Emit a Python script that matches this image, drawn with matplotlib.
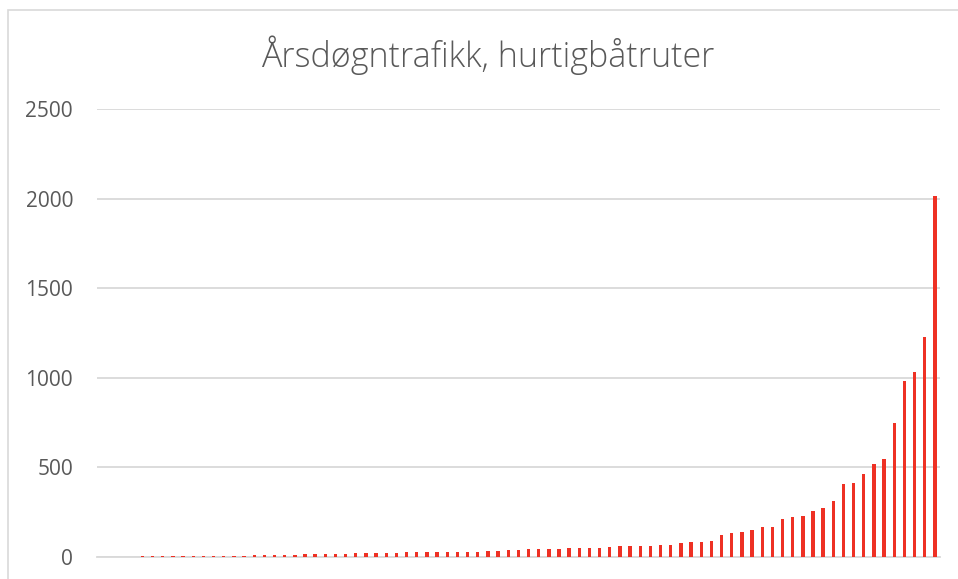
import matplotlib.pyplot as plt
import numpy as np

# Årsdøgntrafikk per hurtigbåtrute, sortert stigende
trafikk = [1, 1, 2, 2, 3, 3, 3, 4, 4, 5, 5, 5, 6,
           7, 7, 9, 11, 11, 13, 13, 17, 17, 17, 19, 19, 22,
           22, 22, 22, 24, 26, 28, 28, 28, 28, 28, 30, 30, 31, 34,
           39, 41, 43, 43, 45, 46, 48, 50, 50, 52, 56, 59, 59, 62,
           61, 65, 65, 78, 82, 82, 89, 121, 134, 141, 153, 166, 167,
           214, 221, 231, 255, 275, 314, 405, 411, 463, 521, 545,
           746, 984, 1034, 1228, 2014]
y_ticks = [0, 500, 1000, 1500, 2000, 2500]
tittel = 'Årsdøgntrafikk, hurtigbåtruter'

grey = '#595959'
fig = plt.figure(figsize=(9.58, 5.79), dpi=100)
fig.patches.append(plt.Rectangle((8 / 958, -0.05), 1.2, 1 - 10 / 579 + 0.05,
                                 transform=fig.transFigure, fill=False,
                                 edgecolor='#D9D9D9', linewidth=1.2))

ax = fig.add_axes([96.7 / 958, 1 - 557 / 579, (940 - 96.7) / 958, (557 - 109) / 579])
x = np.arange(len(trafikk))
ax.bar(x, trafikk, width=0.33, color='#EE3124', zorder=3)

ax.set_xlim(-0.5, len(trafikk) - 0.5)
ax.set_ylim(0, 2500)
ax.set_yticks(y_ticks)
ax.set_yticklabels([str(t) for t in y_ticks], fontsize=15, color=grey,
                   family='Open Sans')
ax.tick_params(axis='y', length=0, pad=17)
ax.set_xticks([])
ax.grid(axis='y', color='#D9D9D9', linewidth=1.3, zorder=0)
for s in ['top', 'right', 'left']:
    ax.spines[s].set_visible(False)
ax.spines['bottom'].set_color('#D9D9D9')
ax.spines['bottom'].set_linewidth(1.3)

fig.text(488 / 958, 1 - 55 / 579, tittel, ha='center', va='center',
         fontsize=24.5, color=grey, family='Open Sans', fontweight='light')

fig.savefig('out.png', dpi=100)
